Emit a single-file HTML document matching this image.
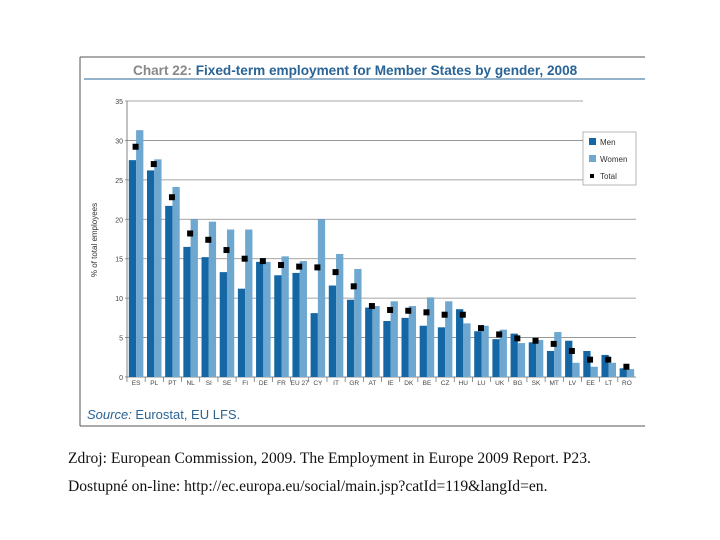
<!DOCTYPE html>
<html><head><meta charset="utf-8"><style>
body{margin:0;background:#fff;width:720px;height:540px;overflow:hidden}
svg{display:block}
</style></head><body>
<svg id="c" width="720" height="540" font-family="Liberation Sans, sans-serif">
<line x1="80" y1="57" x2="80" y2="426" stroke="#555" stroke-width="1"/>
<line x1="80" y1="57" x2="645" y2="57" stroke="#555" stroke-width="1"/>
<line x1="80" y1="426" x2="645" y2="426" stroke="#555" stroke-width="1"/>
<line x1="84" y1="79" x2="645" y2="79" stroke="#2a6496" stroke-width="1"/>
<text x="133" y="75" font-size="13.6" font-weight="bold" fill="#888">Chart 22: <tspan fill="#2a6496">Fixed-term employment for Member States by gender, 2008</tspan></text>
<text transform="translate(97,240) rotate(-90)" text-anchor="middle" font-size="8" fill="#333">% of total employees</text>
<g id="grid"></g><g id="bars"></g>
<g>
<rect x="583" y="132" width="53" height="53" fill="#fff" stroke="#999" stroke-width="0.7"/>
<rect x="589" y="138" width="7" height="7" fill="#1467a4"/>
<text x="600" y="145" font-size="8" fill="#333">Men</text>
<rect x="589" y="155" width="7" height="7" fill="#6ea7cf"/>
<text x="600" y="162" font-size="8" fill="#333">Women</text>
<rect x="590" y="174" width="4" height="4" fill="#000"/>
<text x="600" y="179" font-size="8" fill="#333">Total</text>
</g>
<text x="87" y="419" font-size="13" fill="#2a6496"><tspan font-style="italic">Source:</tspan> Eurostat, EU LFS.</text>
<text x="68" y="463" font-size="15.6" font-family="Liberation Serif, serif" fill="#111">Zdroj: European Commission, 2009. The Employment in Europe 2009 Report. P23.</text>
<text x="68" y="491" font-size="15.6" font-family="Liberation Serif, serif" fill="#111">Dostupné on-line: http://ec.europa.eu/social/main.jsp?catId=119&amp;langId=en.</text>
</svg>
<script>
const categories=["ES","PL","PT","NL","SI","SE","FI","DE","FR","EU 27","CY","IT","GR","AT","IE","DK","BE","CZ","HU","LU","UK","BG","SK","MT","LV","EE","LT","RO"];
const menValues=[27.5,26.2,21.7,16.5,15.2,13.3,11.2,14.6,12.9,13.2,8.1,11.6,9.8,8.8,7.1,7.5,6.5,6.3,8.6,5.8,4.8,5.5,4.4,3.3,4.6,3.3,2.8,1.1];
const womenValues=[31.3,27.6,24.1,20.0,19.7,18.7,18.7,14.6,15.3,14.7,20.0,15.6,13.7,9.0,9.6,9.0,10.1,9.6,6.8,6.5,6.0,4.3,4.7,5.7,1.8,1.3,1.8,1.0];
const totalValues=[29.2,27.0,22.8,18.2,17.4,16.1,15.0,14.7,14.2,14.0,13.9,13.3,11.5,9.0,8.5,8.4,8.2,7.9,7.9,6.2,5.4,4.9,4.6,4.2,3.3,2.2,2.2,1.3];
const yTicks=[0,5,10,15,20,25,30,35];
const NS="http://www.w3.org/2000/svg";
const x0=127,x1=636,yb=377,yt=101,ymax=35;
const band=(x1-x0)/categories.length;
const y=v=>yb-(v/ymax)*(yb-yt);
const bx=i=>x0+i*band;
function mk(t,a,p){const e=document.createElementNS(NS,t);for(const k in a)e.setAttribute(k,a[k]);p.appendChild(e);return e;}
const grid=document.getElementById('grid'),bars=document.getElementById('bars');
yTicks.forEach(t=>{
  const l=mk('line',{x1:x0-2,x2:(t>=30?583:x1),y1:y(t),y2:y(t),stroke:t===0?'#666':'#888','stroke-width':0.8},grid);
  
  
  const tx=mk('text',{x:x0-4,y:y(t)+3,'text-anchor':'end','font-size':7,fill:'#444'},grid);
  tx.textContent=t;
  
  
});
const ax=mk('line',{x1:x0,x2:x0,y1:yt,y2:yb,stroke:'#666','stroke-width':0.8},grid);


const bw=band*0.4;
categories.forEach((c,i)=>{
  const s=bx(i)+band*0.1;
  const m=mk('rect',{x:s,y:y(menValues[i]),width:bw,height:yb-y(menValues[i]),fill:'#1467a4'},bars);
  
  
  const w=mk('rect',{x:s+bw,y:y(womenValues[i]),width:bw,height:yb-y(womenValues[i]),fill:'#6ea7cf'},bars);
  
  
  const p=mk('rect',{x:s+bw-3.5,y:y(totalValues[i])-3,width:6,height:6,fill:'#000'},bars);
  
  
  const tk=mk('line',{x1:bx(i),x2:bx(i),y1:yb,y2:yb+5,stroke:'#666','stroke-width':0.7},bars);
  
  
  const lb=mk('text',{x:bx(i)+band/2,y:yb+8,'text-anchor':'middle','font-size':6.5,fill:'#444'},bars);
  lb.textContent=c;
  
  
});
</script>
</body></html>
